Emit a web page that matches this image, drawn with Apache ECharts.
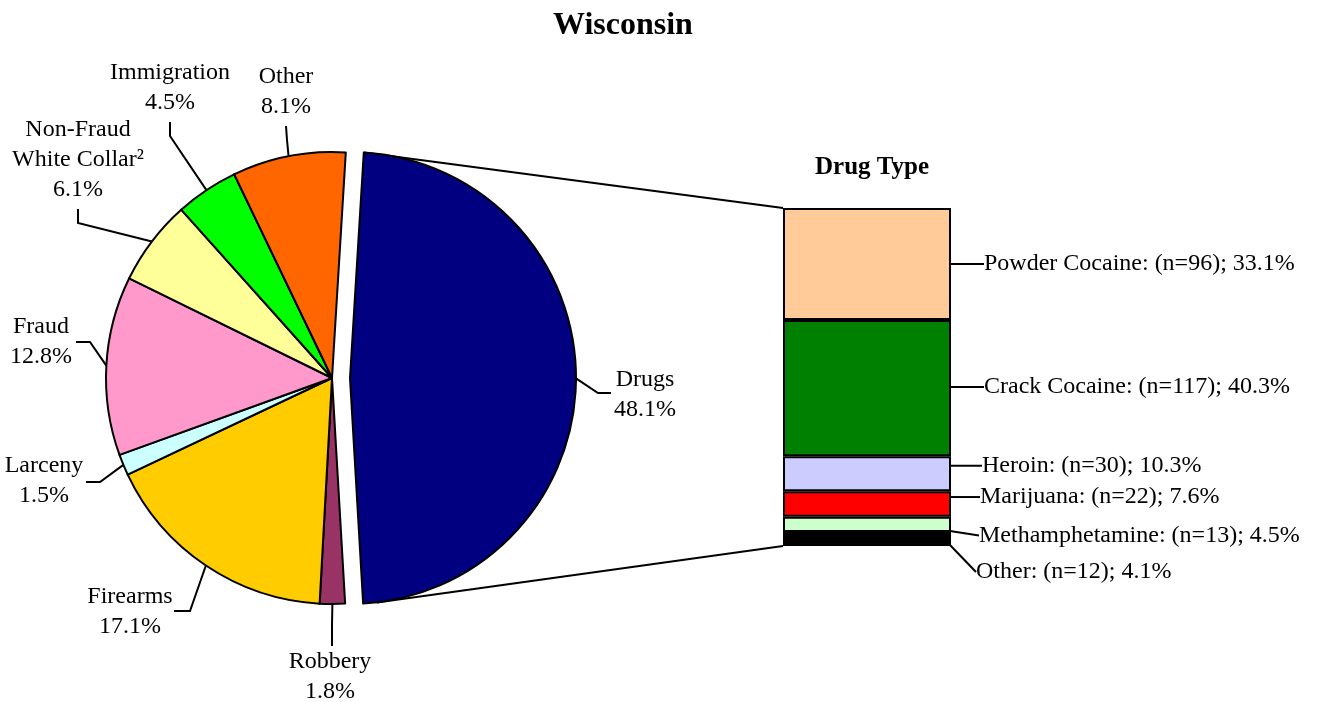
<!DOCTYPE html>
<html>
<head>
<meta charset="utf-8">
<title>Wisconsin</title>
<script src="https://cdn.jsdelivr.net/npm/echarts@6/dist/echarts.min.js"></script>
<style>
  html, body { margin: 0; padding: 0; background: #fff; }
  #chart { width: 1319px; height: 702px; }
</style>
</head>
<body>
<div id="chart"></div>
<script>
// offense shares (percent), clockwise from the exploded slice
var offenseNames = ['Drugs', 'Robbery', 'Firearms', 'Larceny', 'Fraud',
    'Non-Fraud\nWhite Collar\u00b2', 'Immigration', 'Other'];
var offenseShare = [48.1, 1.8, 17.1, 1.5, 12.8, 6.1, 4.5, 8.1];
var offenseColors = ['#000080', '#993366', '#FFCC00', '#CCFFFF', '#FF99CC',
    '#FFFF99', '#00FF00', '#FF6600'];

// drug type breakdown, top to bottom
var drugNames = ['Powder Cocaine', 'Crack Cocaine', 'Heroin', 'Marijuana',
    'Methamphetamine', 'Other'];
var drugCounts = [96, 117, 30, 22, 13, 12];
var drugShare = [33.1, 40.3, 10.3, 7.6, 4.5, 4.1];
var drugColors = ['#FFCC99', '#008000', '#CCCCFF', '#FF0000', '#CCFFCC', '#000000'];

var FONT = '"Liberation Serif", "Times New Roman", serif';
var pieCenter = [332, 378];
var pieRadius = 226;
var startAngle = 86.5;
var explode = 18;
var HIDDEN = 'rgba(0,0,0,0)';

// where each pie label sits and how its leader line bends
var pieLabelPos = [
    { pos: [645, 395], bend: [598, 393], end: [611, 393] },
    { pos: [330, 677], bend: [332, 625], end: [332, 646] },
    { pos: [130, 612], bend: [190, 611], end: [174, 611] },
    { pos: [44, 481], bend: [100, 482], end: [86, 482] },
    { pos: [41, 342], bend: [90, 342], end: [76, 342] },
    { pos: [78, 160], bend: [78, 223], end: [78, 209] },
    { pos: [170, 88], bend: [170, 136], end: [170, 122] },
    { pos: [286, 92], bend: [287, 140], end: [286, 126] }
];
// vertical shift of each drug label from its segment middle, and its inset
var drugLabelShift = [0, -1, -8, -7, 11, 33];
var drugLabelInset = [0, 0, 2, 4, 5, 8];

var gridBox = { left: 783, top: 208, width: 168, height: 338 };
var drugTotal = drugCounts.reduce(function (a, b) { return a + b; }, 0);
var restShare = offenseShare.slice(1).reduce(function (a, b) { return a + b; }, 0);

var hiddenItem = {
    itemStyle: { color: HIDDEN, borderWidth: 0 },
    label: { show: false },
    labelLine: { show: false }
};

// main pie: every slice, the drugs slot left empty
var pieData = offenseNames.map(function (n, i) {
    var d = { name: n, value: offenseShare[i], itemStyle: { color: offenseColors[i] } };
    if (i === 0) echarts.util.merge(d, hiddenItem, true);
    return d;
});
// exploded drugs slice, drawn from a centre pushed to the right
var drugPieData = [
    { name: offenseNames[0], value: offenseShare[0], itemStyle: { color: offenseColors[0] } },
    echarts.util.merge({ name: '', value: restShare }, hiddenItem, true)
];

function pieLabelLayout(p) {
    var L = pieLabelPos[p.dataIndex];
    var start = p.labelLinePoints ? p.labelLinePoints[0] : L.bend;
    return {
        x: L.pos[0],
        y: L.pos[1],
        align: 'center',
        verticalAlign: 'middle',
        labelLinePoints: [start, L.bend, L.end]
    };
}

var pieBase = {
    type: 'pie',
    radius: pieRadius,
    startAngle: startAngle,
    clockwise: true,
    avoidLabelOverlap: false,
    silent: true,
    itemStyle: { borderColor: '#000', borderWidth: 2 },
    emphasis: { disabled: true },
    label: {
        show: true,
        position: 'outside',
        color: '#000',
        fontFamily: FONT,
        fontSize: 24,
        lineHeight: 30,
        align: 'center',
        formatter: function (p) { return p.name + '\n' + p.value.toFixed(1) + '%'; }
    },
    labelLine: { show: true, lineStyle: { color: '#000', width: 2 } },
    labelLayout: pieLabelLayout
};

var barSeries = drugNames.map(function (n, i) {
    return {
        type: 'bar',
        name: n,
        stack: 'drugs',
        barWidth: '100%',
        silent: true,
        data: [drugCounts[i]],
        itemStyle: { color: drugColors[i], borderColor: '#000', borderWidth: 2 },
        emphasis: { disabled: true },
        label: {
            show: true,
            position: 'right',
            color: '#000',
            fontFamily: FONT,
            fontSize: 24,
            formatter: n + ': (n=' + drugCounts[i] + '); ' + drugShare[i].toFixed(1) + '%'
        },
        labelLine: { show: true, lineStyle: { color: '#000', width: 2 } },
        labelLayout: function (p) {
            var k = p.seriesIndex - 2;
            var r = p.rect;
            var x0 = r.x + r.width;
            var yMid = r.y + r.height / 2;
            var ly = yMid + drugLabelShift[k];
            var xe = x0 + 31 - drugLabelInset[k];
            return {
                x: xe + 2,
                y: ly,
                align: 'left',
                verticalAlign: 'middle',
                labelLinePoints: [[x0, yMid], [x0 + 19, ly], [xe, ly]]
            };
        }
    };
});

var chart = echarts.init(document.getElementById('chart'));
chart.setOption({
    animation: false,
    backgroundColor: '#fff',
    title: [
        { text: 'Wisconsin', left: 548, top: 5,
          textStyle: { fontFamily: FONT, fontSize: 32, fontWeight: 'bold', color: '#000' } },
        { text: 'Drug Type', left: 810, top: 150,
          textStyle: { fontFamily: FONT, fontSize: 25, fontWeight: 'bold', color: '#000' } }
    ],
    grid: gridBox,
    xAxis: { type: 'category', data: [''], show: false },
    yAxis: { type: 'value', min: 0, max: drugTotal, inverse: true, show: false },
    series: [
        echarts.util.merge({ center: pieCenter, data: pieData }, pieBase),
        echarts.util.merge({
            center: [pieCenter[0] + explode, pieCenter[1]], data: drugPieData
        }, pieBase)
    ].concat(barSeries)
});

// connector lines from the exploded slice to the drug bar
function drawConnectors() {
    var yTop = chart.convertToPixel({ yAxisIndex: 0 }, 0);
    var yBot = chart.convertToPixel({ yAxisIndex: 0 }, drugTotal);
    var drugSweep = offenseShare[0] / 100 * 360;
    var cx = pieCenter[0] + explode;
    var a1 = (90 - startAngle) * Math.PI / 180;
    var a2 = (90 - startAngle + drugSweep - 3.5) * Math.PI / 180;
    var p1 = [cx + pieRadius * Math.sin(a1), pieCenter[1] - pieRadius * Math.cos(a1)];
    var p2 = [cx + pieRadius * Math.sin(a2), pieCenter[1] - pieRadius * Math.cos(a2)];
    chart.setOption({
        graphic: [
            { type: 'polyline', shape: { points: [p1, [gridBox.left, yTop]] },
              style: { stroke: '#000', lineWidth: 2, fill: null }, silent: true },
            { type: 'polyline', shape: { points: [p2, [gridBox.left, yBot]] },
              style: { stroke: '#000', lineWidth: 2, fill: null }, silent: true }
        ]
    });
}
drawConnectors();
</script>
</body>
</html>
